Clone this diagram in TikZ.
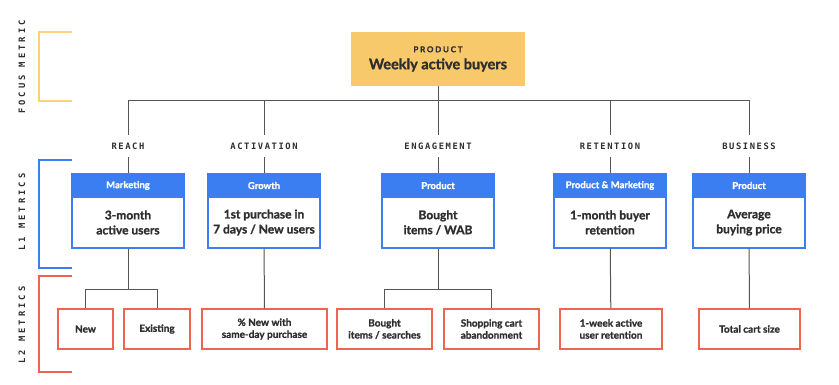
\documentclass[tikz,border=0pt]{standalone}
\usepackage{fontspec}
\setmainfont{Lato}[BoldFeatures={FakeBold=1.3}]
\newfontfamily\catfont[LetterSpace=18]{DejaVu Sans Mono}
\newfontfamily\sidefont[LetterSpace=34]{DejaVu Sans Mono}
\usepackage{xcolor}
\usepackage{tikz}
\usetikzlibrary{positioning}

\definecolor{focusfill}{HTML}{F7C96B}
\definecolor{focusline}{HTML}{F9D27A}
\definecolor{lonblue}{HTML}{3A7EF2}
\definecolor{ltwored}{HTML}{EE6550}
\definecolor{linegray}{HTML}{555555}
\definecolor{textdark}{HTML}{2E2E2E}

\begin{document}
\begin{tikzpicture}[
  x=1pt, y=-1pt,
  every node/.style={text=textdark, inner sep=0pt},
  focusbox/.style={rectangle, fill=focusfill, minimum width=174pt, minimum height=54pt, align=center},
  cat/.style={minimum height=22pt, font=\catfont\bfseries\fontsize{8.8}{10}\selectfont},
  lonehead/.style={rectangle, fill=lonblue, draw=lonblue, line width=1.2pt, minimum width=112pt, minimum height=23pt, text=white, font=\bfseries\fontsize{9.5}{11}\selectfont},
  lonebody/.style={rectangle, draw=lonblue, line width=1.2pt, fill=white, minimum width=112pt, minimum height=51pt, align=center, font=\bfseries\fontsize{12}{15}\selectfont},
  ltwobox/.style={rectangle, draw=ltwored, line width=1.3pt, minimum height=40pt, align=center, font=\bfseries\fontsize{10}{12}\selectfont},
  side/.style={rotate=90, font=\sidefont\bfseries\fontsize{8.8}{10}\selectfont},
  link/.style={draw=linegray, line width=1pt},
  bracket/.style={line width=1.2pt}
]
\useasboundingbox (0,0) rectangle (839,384);

% Side labels
\node[side] (focuslbl) at (22,67) {FOCUS METRIC};
\node[side] (l1lbl) at (22,212) {L1 METRICS};
\node[side] (l2lbl) at (22,325) {L2 METRICS};
\draw[bracket, focusline] (72,32) -- (39,32) -- (39,101) -- (72,101);
\draw[bracket, lonblue] (72,160) -- (39,160) -- (39,268) -- (72,268);
\draw[bracket, ltwored] (72,276) -- (39,276) -- (39,372) -- (72,372);

% Focus metric
\node[focusbox] (focus) at (438,59) {{\bfseries\fontsize{8}{10}\selectfont\addfontfeature{LetterSpace=22}PRODUCT}\\[5pt]{\bfseries\fontsize{14.5}{16}\selectfont Weekly active buyers}};
\coordinate (split) at (438,100);

% Categories
\node[cat] (reachcat) at (128,146) {REACH};
\node[cat] (actcat) at (264,146) {ACTIVATION};
\node[cat] (engcat) at (438,146) {ENGAGEMENT};
\node[cat] (retcat) at (610,146) {RETENTION};
\node[cat] (buscat) at (749,146) {BUSINESS};

% L1 metrics
\node[lonehead] (reachhead) at (128,185.5) {Marketing};
\node[lonebody] (reach) at (128,222.5) {3-month\\active users};
\node[lonehead] (acthead) at (264,185.5) {Growth};
\node[lonebody] (act) at (264,222.5) {1st purchase in\\7 days / New users};
\node[lonehead] (enghead) at (438,185.5) {Product};
\node[lonebody] (eng) at (438,222.5) {Bought\\items / WAB};
\node[lonehead] (rethead) at (610,185.5) {Product \& Marketing};
\node[lonebody] (ret) at (610,222.5) {1-month buyer\\retention};
\node[lonehead] (bushead) at (749,185.5) {Product};
\node[lonebody] (bus) at (749,222.5) {Average\\buying price};

% L2 metrics
\node[ltwobox, minimum width=55pt] (new) at (85.5,329) {New};
\node[ltwobox, minimum width=66pt] (existing) at (157,329) {Existing};
\node[ltwobox, minimum width=125pt] (sameday) at (264.5,329) {\% New with\\same-day purchase};
\node[ltwobox, minimum width=95pt] (searches) at (384.5,329) {Bought\\items / searches};
\node[ltwobox, minimum width=95pt] (cart) at (491.5,329) {Shopping cart\\abandonment};
\node[ltwobox, minimum width=102pt] (weekret) at (611,329) {1-week active\\user retention};
\node[ltwobox, minimum width=101pt] (cartsize) at (749.5,329) {Total cart size};

% Connectors
\draw[link] (focus) -- (split);
\foreach \c/\h in {reachcat/reachhead, actcat/acthead, engcat/enghead, retcat/rethead, buscat/bushead}{
  \draw[link] (split) -| (\c.north);
  \draw[link] (\c.south) -- (\h.north);
}
\coordinate (reachsplit) at (128,289);
\coordinate (engsplit) at (438,289);
\draw[link] (reach) -- (reachsplit);
\draw[link] (reachsplit) -| (new);
\draw[link] (reachsplit) -| (existing);
\draw[link] (eng) -- (engsplit);
\draw[link] (engsplit) -| (searches);
\draw[link] (engsplit) -| (cart);
\draw[link] (act) -- (sameday);
\draw[link] (ret) -- (weekret);
\draw[link] (bus) -- (cartsize);

\end{tikzpicture}
\end{document}
